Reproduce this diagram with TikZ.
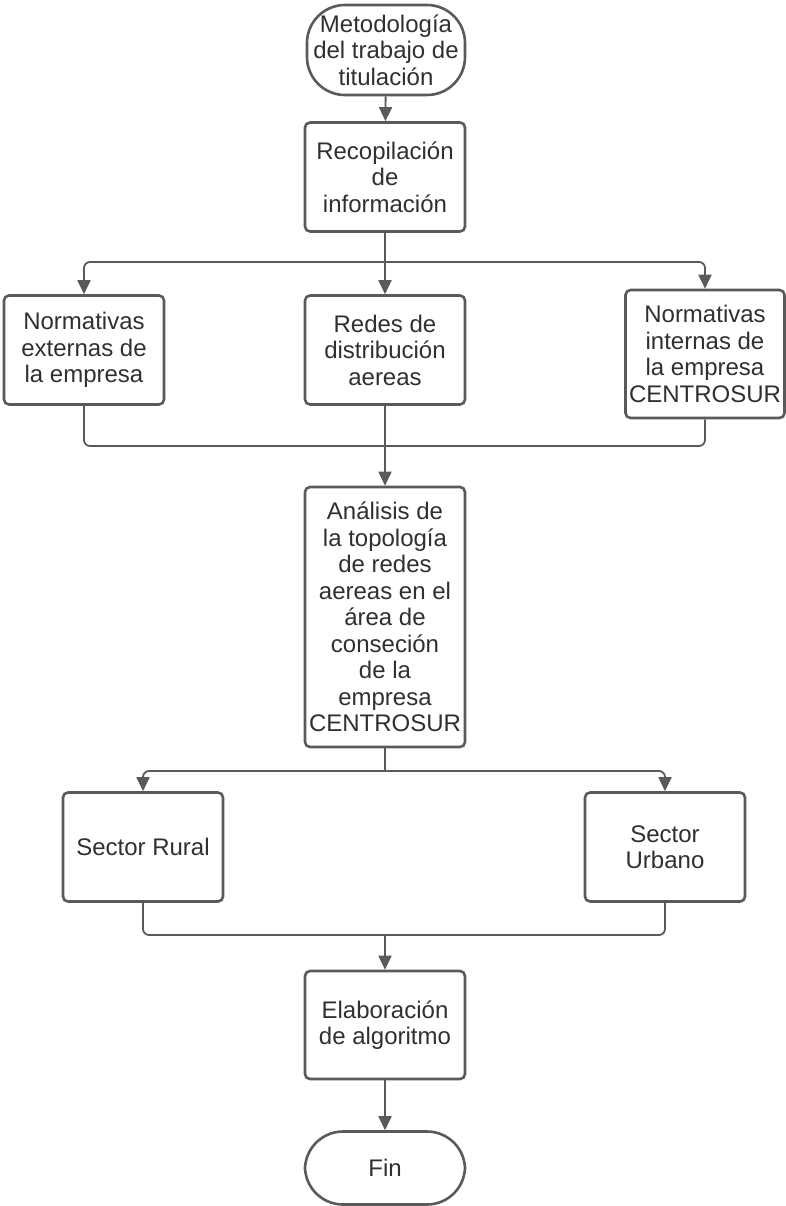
\documentclass[tikz,border=0pt]{standalone}
\usepackage{fontspec}
\setmainfont{Liberation Sans}
\usetikzlibrary{arrows.meta}
\definecolor{linegray}{HTML}{5A5A5A}
\definecolor{textgray}{HTML}{303030}
\tikzset{
	box/.style={draw=linegray, line width=2.6pt, rounded corners=5pt, fill=white, text=textgray, align=center, minimum width=160pt, font=\fontsize{24}{26.5}\selectfont},
	term/.style={box, rounded corners=38pt},
	conn/.style={draw=linegray, line width=1.8pt, rounded corners=6pt},
	arr/.style={conn, -{Triangle[length=14pt, width=13pt]}}
}
\begin{document}
\begin{tikzpicture}[x=1pt, y=-1pt]
	\useasboundingbox (0,0) rectangle (786,1206);
	\node[term, minimum width=158pt, minimum height=90pt] (start) at (386,50) {Metodología\\del trabajo de\\titulación};
	\node[box, minimum height=109pt] (recop) at (385,177) {Recopilación\\de\\información};
	\node[box, minimum height=109pt] (ext) at (84,350) {Normativas\\externas de\\la empresa};
	\node[box, minimum height=109pt] (redes) at (385,350) {Redes de\\distribución\\aereas};
	\node[box, minimum width=159pt, minimum height=128pt] (intern) at (705,354) {Normativas\\internas de\\la empresa\\CENTROSUR};
	\node[box, minimum height=260pt] (anal) at (385,617) {Análisis de\\la topología\\de redes\\aereas en el\\área de\\conseción\\de la\\empresa\\CENTROSUR};
	\node[box, minimum height=109pt] (rural) at (143,847) {Sector Rural};
	\node[box, minimum height=109pt] (urbano) at (665,847) {Sector\\Urbano};
	\node[box, minimum height=108pt] (elab) at (385,1025) {Elaboración\\de algoritmo};
	\node[term, minimum height=73pt] (fin) at (385,1168) {Fin};

	\coordinate (split1) at (385,262);
	\coordinate (join1) at (385,446);
	\coordinate (split2) at (385,771);
	\coordinate (join2) at (385,935);

	\draw[arr] (start) -- (recop);
	\draw[conn] (recop.south) -- (split1);
	\draw[arr] (split1) -| (ext.north);
	\draw[arr] (split1) -- (redes.north);
	\draw[arr] (split1) -| (intern.north);
	\draw[conn] (ext.south) |- (join1);
	\draw[conn] (intern.south) |- (join1);
	\draw[conn] (redes.south) -- (join1);
	\draw[arr] (join1) -- (anal.north);
	\draw[conn] (anal.south) -- (split2);
	\draw[arr] (split2) -| (rural.north);
	\draw[arr] (split2) -| (urbano.north);
	\draw[conn] (rural.south) |- (join2);
	\draw[conn] (urbano.south) |- (join2);
	\draw[arr] (join2) -- (elab.north);
	\draw[arr] (elab) -- (fin);
\end{tikzpicture}
\end{document}
